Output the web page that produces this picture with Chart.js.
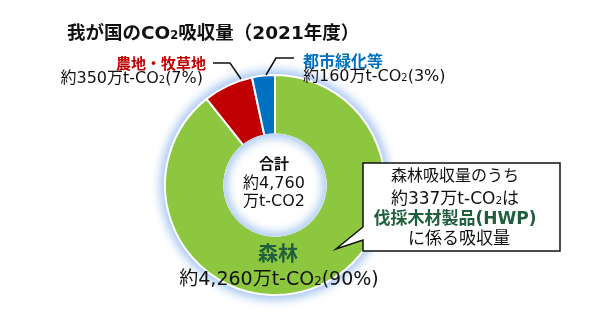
<!DOCTYPE html>
<html><head><meta charset="utf-8">
<script src="https://cdn.jsdelivr.net/npm/chart.js@4/dist/chart.umd.min.js"></script>
<style>
html,body{margin:0;padding:0;background:#fff;}
#wrap{position:relative;width:590px;height:317px;overflow:hidden;font-family:"DejaVu Sans","Noto Sans CJK JP",sans-serif;color:#111;}
canvas{position:absolute;left:0;top:0;}
.t{position:absolute;white-space:nowrap;line-height:1;}
.c{text-align:center;}
.s{font-size:0.62em;}
.j{font-family:"Noto Sans CJK JP",sans-serif;}
</style></head><body>
<div id="wrap">
<canvas id="c" width="590" height="317"></canvas>
</div>
<script>
// ---- data ----
const categories = ['森林', '農地・牧草地', '都市緑化等'];
const values = [4260, 350, 160];          // 万t-CO2
const shares = [90, 7, 3];                // %
const totalValue = 4760;                  // 万t-CO2
const hwpValue = 337;                     // 万t-CO2
const titleText = ['我が国のCO', '2', '吸収量（2021年度）'];
const calloutLines = ['森林吸収量のうち', '伐採木材製品(HWP)', 'に係る吸収量'];

// ---- styles ----
const sliceColors = ['#8DC63F', '#C00000', '#0070C0'];
const nameColors = ['#1F5F3D', '#C00000', '#0070C0'];
const darkGreen = '#1F5F3D';

const fmt = v => v.toLocaleString('en-US');
const co2 = '万t-CO<span class="s">2</span>';

const glow = {
  id: 'glow',
  beforeDatasetsDraw(chart) {
    const a = chart.getDatasetMeta(0).data[0];
    const ctx = chart.ctx;
    ctx.save();
    ctx.filter = 'blur(5px)';
    ctx.fillStyle = 'rgba(160,195,240,0.95)';
    ctx.beginPath(); ctx.arc(a.x, a.y, a.outerRadius + 5, 0, Math.PI * 2); ctx.fill();
    ctx.restore();
  },
  afterDatasetsDraw(chart) {
    const a = chart.getDatasetMeta(0).data[0];
    const ctx = chart.ctx;
    ctx.save();
    ctx.beginPath(); ctx.arc(a.x, a.y, a.innerRadius + 1, 0, Math.PI * 2); ctx.fillStyle = '#fff'; ctx.fill(); ctx.clip();
    ctx.filter = 'blur(5px)';
    ctx.strokeStyle = 'rgba(160,195,240,0.95)';
    ctx.lineWidth = 10;
    ctx.beginPath(); ctx.arc(a.x, a.y, a.innerRadius + 2, 0, Math.PI * 2); ctx.stroke();
    ctx.restore();
  },
  afterDraw(chart) {
    const ctx = chart.ctx;
    ctx.save();
    ctx.strokeStyle = '#111';
    ctx.lineWidth = 1.5;
    // leader lines
    ctx.beginPath(); ctx.moveTo(213, 63); ctx.lineTo(230, 63); ctx.lineTo(241, 79); ctx.stroke();
    ctx.beginPath(); ctx.moveTo(294, 58); ctx.lineTo(276, 58); ctx.lineTo(266, 75); ctx.stroke();
    // callout
    ctx.beginPath();
    ctx.moveTo(363, 163); ctx.lineTo(560, 163); ctx.lineTo(560, 251); ctx.lineTo(363, 251);
    ctx.lineTo(363, 240); ctx.lineTo(336, 249); ctx.lineTo(363, 227); ctx.closePath();
    ctx.fillStyle = '#fff'; ctx.fill(); ctx.stroke();
    ctx.restore();
  }
};

new Chart(document.getElementById('c'), {
  type: 'doughnut',
  data: {
    labels: categories,
    datasets: [{
      data: values,
      backgroundColor: sliceColors,
      borderColor: '#fff',
      borderWidth: 2,
      hoverOffset: 0
    }]
  },
  options: {
    responsive: false,
    animation: false,
    cutout: '46%',
    layout: { padding: { left: 164, right: 204, top: 74, bottom: 21 } },
    plugins: { legend: { display: false }, tooltip: { enabled: false } }
  },
  plugins: [glow]
});

// ---- text ----
const wrap = document.getElementById('wrap');
function add(html, style, cls) {
  const d = document.createElement('div');
  d.className = 't' + (cls ? ' ' + cls : '');
  d.innerHTML = html;
  Object.assign(d.style, style);
  wrap.appendChild(d);
  return d;
}
add(titleText[0] + '<span class="s">' + titleText[1] + '</span>' + titleText[2],
    { left: '67px', top: '24px', fontSize: '18.5px', fontWeight: '700' });
// 農地・牧草地
add(categories[1], { right: (590 - 206) + 'px', top: '55px', fontSize: '15px', fontWeight: '700', color: nameColors[1] }, 'j');
add('約' + fmt(values[1]) + co2 + '(' + shares[1] + '%)', { right: (590 - 203) + 'px', top: '70px', fontSize: '16px' });
// 都市緑化等
add(categories[2], { left: '303px', top: '54px', fontSize: '16px', fontWeight: '700', color: nameColors[2] });
add('約' + fmt(values[2]) + co2 + '(' + shares[2] + '%)', { left: '303px', top: '68px', fontSize: '16px' });
// center
add('合計', { left: '174px', width: '200px', top: '157px', fontSize: '15px', fontWeight: '700' }, 'c');
add('約' + fmt(totalValue), { left: '174px', width: '200px', top: '175px', fontSize: '16px' }, 'c');
add('万t-CO2', { left: '174px', width: '200px', top: '193px', fontSize: '16px' }, 'c');
// 森林
add(categories[0], { left: '178px', width: '200px', top: '244px', fontSize: '20px', fontWeight: '700', color: nameColors[0] }, 'c');
add('約' + fmt(values[0]) + co2 + '(' + shares[0] + '%)', { left: '129px', width: '300px', top: '269px', fontSize: '19px' }, 'c');
// callout text
add(calloutLines[0], { left: '355px', width: '200px', top: '168px', fontSize: '16px' }, 'c');
add('約' + hwpValue + co2 + 'は', { left: '355px', width: '200px', top: '190px', fontSize: '17px' }, 'c');
add(calloutLines[1], { left: '355px', width: '200px', top: '210px', fontSize: '17px', fontWeight: '700', color: darkGreen }, 'c');
add(calloutLines[2], { left: '359px', width: '200px', top: '230px', fontSize: '17px' }, 'c');
</script>
</body></html>
